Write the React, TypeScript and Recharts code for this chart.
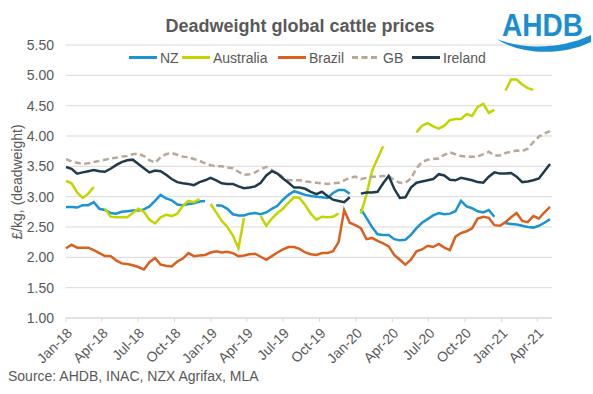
import { LineChart, Line, XAxis, YAxis, CartesianGrid } from "recharts";

// fortnightly readings from 1 Jan 2018, £/kg deadweight
const tickDays = [0, 90, 181, 273, 365, 455, 546, 638, 730, 821, 912, 1004, 1096, 1186];
const tickLabels = ["Jan-18", "Apr-18", "Jul-18", "Oct-18", "Jan-19", "Apr-19", "Jul-19", "Oct-19", "Jan-20", "Apr-20", "Jul-20", "Oct-20", "Jan-21", "Apr-21"];
const yTicks = [1, 1.5, 2, 2.5, 3, 3.5, 4, 4.5, 5, 5.5];

const nz = [
  2.83, 2.83, 2.82, 2.86, 2.86, 2.91, 2.80, 2.78, 2.73, 2.72,
  2.75, 2.76, 2.77, 2.77, 2.79, 2.84, 2.93, 3.03, 2.97, 2.94,
  2.87, 2.86, 2.88, 2.89, 2.92, 2.93, null, 2.86, 2.85, 2.80,
  2.71, 2.69, 2.69, 2.72, 2.73, 2.71, 2.74, 2.80, 2.85, 2.95,
  3.03, 3.09, 3.06, 3.03, 3.01, 3.00, 2.99, 2.98, 3.06, 3.11,
  3.11, 3.05, null, 2.80, 2.65, 2.50, 2.38, 2.37, 2.37, 2.30,
  2.28, 2.29, 2.37, 2.48, 2.57, 2.63, 2.69, 2.73, 2.71, 2.72,
  2.76, 2.93, 2.84, 2.81, 2.76, 2.74, 2.78, 2.67, null, 2.56,
  2.55, 2.54, 2.52, 2.50, 2.49, 2.52, 2.57, 2.63,
];

const australia = [
  3.26, 3.22, 3.07, 2.98, 3.05, 3.16, null, 2.80, 2.67, 2.66,
  2.66, 2.66, 2.73, 2.80, 2.75, 2.62, 2.56, 2.66, 2.70, 2.68,
  2.72, 2.85, 2.93, 2.91, 2.96, null, 2.88, 2.74, 2.60, 2.50,
  2.36, 2.15, 2.65, null, null, 2.68, 2.52, 2.64, 2.73, 2.80,
  2.90, 2.99, 2.98, 2.86, 2.72, 2.62, 2.67, 2.66, 2.67, 2.72,
  null, null, null, 2.72, 3.03, 3.42, 3.63, 3.83, null, null,
  null, null, null, 4.06, 4.17, 4.21, 4.16, 4.12, 4.17, 4.26,
  4.28, 4.28, 4.36, 4.33, 4.48, 4.53, 4.38, 4.43, null, 4.75,
  4.93, 4.93, 4.85, 4.79, 4.76, null, null, null,
];

const brazil = [
  2.15, 2.21, 2.16, 2.16, 2.16, 2.12, 2.07, 2.02, 2.02, 1.95,
  1.90, 1.89, 1.87, 1.84, 1.80, 1.92, 1.99, 1.88, 1.86, 1.85,
  1.93, 1.98, 2.07, 2.02, 2.03, 2.04, 2.08, 2.10, 2.08, 2.09,
  2.07, 2.02, 2.03, 2.05, 2.06, 2.01, 1.96, 2.02, 2.08, 2.13,
  2.17, 2.17, 2.14, 2.08, 2.05, 2.04, 2.07, 2.07, 2.10, 2.25,
  2.78, 2.57, 2.53, 2.48, 2.30, 2.32, 2.27, 2.23, 2.18, 2.04,
  1.96, 1.88, 1.96, 2.10, 2.13, 2.19, 2.17, 2.22, 2.16, 2.12,
  2.34, 2.40, 2.43, 2.48, 2.64, 2.67, 2.65, 2.53, 2.52, 2.58,
  2.66, 2.73, 2.60, 2.58, 2.68, 2.64, 2.74, 2.83,
];

const gb = [
  3.62, 3.58, 3.56, 3.54, 3.55, 3.57, 3.59, 3.61, 3.63, 3.64,
  3.66, 3.67, 3.70, 3.71, 3.67, 3.60, 3.56, 3.65, 3.70, 3.72,
  3.69, 3.66, 3.65, 3.62, 3.59, 3.55, 3.52, 3.50, 3.50, 3.48,
  3.47, 3.41, 3.36, 3.37, 3.40, 3.45, 3.49, 3.44, 3.39, 3.32,
  3.27, 3.27, 3.27, 3.25, 3.24, 3.23, 3.22, 3.21, 3.22, 3.23,
  3.27, 3.31, 3.33, 3.29, 3.31, 3.33, 3.33, 3.34, 3.34, 3.27,
  3.23, 3.23, 3.30, 3.47, 3.57, 3.61, 3.62, 3.63, 3.69, 3.73,
  3.70, 3.67, 3.66, 3.66, 3.66, 3.70, 3.74, 3.68, 3.68, 3.72,
  3.74, 3.76, 3.75, 3.79, 3.90, 3.99, 4.04, 4.08,
];

const ireland = [
  3.49, 3.46, 3.38, 3.40, 3.42, 3.44, 3.42, 3.41, 3.46, 3.52,
  3.57, 3.60, 3.61, 3.54, 3.47, 3.40, 3.43, 3.42, 3.36, 3.29,
  3.24, 3.22, 3.21, 3.19, 3.24, 3.27, 3.31, 3.27, 3.22, 3.21,
  3.21, 3.17, 3.14, 3.15, 3.17, 3.23, 3.35, 3.42, 3.38, 3.30,
  3.23, 3.15, 3.15, 3.13, 3.08, 3.04, 3.08, 3.01, 2.95, 2.93,
  2.91, 2.99, null, 3.05, 3.07, 3.07, 3.08, 3.22, 3.34, 3.13,
  2.98, 2.99, 3.15, 3.23, 3.25, 3.27, 3.29, 3.37, 3.35, 3.28,
  3.27, 3.31, 3.29, 3.27, 3.24, 3.23, 3.33, 3.40, 3.38, 3.38,
  3.39, 3.33, 3.24, 3.25, 3.27, 3.30, 3.42, 3.54,
];

const series = [
  { key: "nz", name: "NZ", color: "#1a94d2", dash: undefined, values: nz },
  { key: "australia", name: "Australia", color: "#c3d400", dash: undefined, values: australia },
  { key: "brazil", name: "Brazil", color: "#d8611f", dash: undefined, values: brazil },
  { key: "gb", name: "GB", color: "#b7a898", dash: "6 3.5", values: gb },
  { key: "ireland", name: "Ireland", color: "#1f3a4b", dash: undefined, values: ireland },
];

const rows = nz.map((_, i) => {
  const row: Record<string, number | null> = { day: i * 14 };
  series.forEach((s) => { row[s.key] = s.values[i]; });
  return row;
});

const FONT = "'Liberation Sans', Arial, sans-serif";
const GREY = "#595959";
const legendX = [129, 182, 278, 352, 412];

export default function App() {
  return (
    <div style={{ position: "absolute", left: 0, top: 0, width: 593, height: 394, background: "#fff", fontFamily: FONT }}>
      <LineChart width={593} height={394} data={rows} margin={{ top: 45, right: 41, bottom: 0, left: 0 }}>
        <CartesianGrid vertical={false} stroke="#d9d9d9" strokeWidth={1} />
        <XAxis
          type="number"
          dataKey="day"
          domain={[0, 1223]}
          ticks={tickDays}
          interval={0}
          tickFormatter={(d: number) => tickLabels[tickDays.indexOf(d)] ?? ""}
          stroke="#d9d9d9"
          tickSize={4}
          tickMargin={5}
          angle={-45}
          textAnchor="end"
          height={76}
          tick={{ fill: GREY, fontSize: 14, fontFamily: FONT }}
        />
        <YAxis
          domain={[1, 5.5]}
          ticks={yTicks}
          interval={0}
          axisLine={false}
          tickLine={false}
          tickSize={0}
          tickMargin={12}
          width={66}
          tickFormatter={(v: number) => v.toFixed(2)}
          tick={{ fill: GREY, fontSize: 14, fontFamily: FONT }}
        />
        {series.map((s) => (
          <Line
            key={s.key}
            type="linear"
            dataKey={s.key}
            name={s.name}
            stroke={s.color}
            strokeWidth={2.5}
            strokeDasharray={s.dash}
            dot={false}
            activeDot={false}
            connectNulls={false}
            isAnimationActive={false}
          />
        ))}
      </LineChart>

      {/* title, legend, axis title, source, logo */}
      <svg width={593} height={394} style={{ position: "absolute", left: 0, top: 0, pointerEvents: "none" }}>
        <text x={300} y={32} textAnchor="middle" fontSize={18} fontWeight="bold" fill={GREY} fontFamily={FONT}>
          Deadweight global cattle prices
        </text>
        {series.map((s, i) => (
          <g key={s.key}>
            <line x1={legendX[i]} x2={legendX[i] + 28} y1={57.5} y2={57.5} stroke={s.color} strokeWidth={3} strokeDasharray={s.dash} />
            <text x={legendX[i] + 31} y={62.5} fontSize={14} fill={GREY} fontFamily={FONT}>{s.name}</text>
          </g>
        ))}
        <text transform="translate(22,182) rotate(-90)" textAnchor="middle" fontSize={14} fill={GREY} fontFamily={FONT}>
          £/kg, (deadweight)
        </text>
        <text x={8} y={381} fontSize={14} fill={GREY} fontFamily={FONT}>
          Source: AHDB, INAC, NZX Agrifax, MLA
        </text>
        <text x={502} y={36} fontSize={32} fontWeight="bold" fill="#1b8ed2" fontFamily={FONT} textLength={81} lengthAdjust="spacingAndGlyphs">
          AHDB
        </text>
        <path d="M497,39 C520,49 560,50 591,35 L591,42 C560,57 518,54 497,39 Z" fill="#1b8ed2" />
      </svg>
    </div>
  );
}
